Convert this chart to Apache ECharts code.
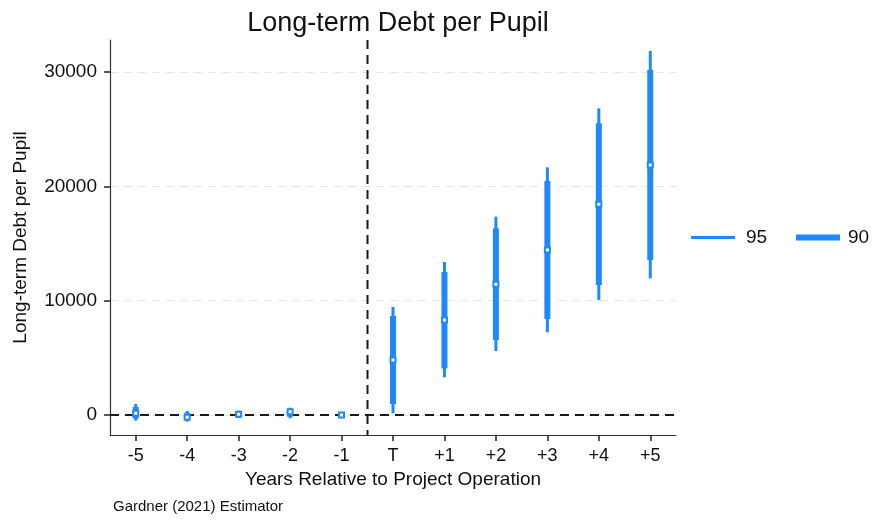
<!DOCTYPE html>
<html>
<head>
<meta charset="utf-8">
<title>Long-term Debt per Pupil</title>
<script src="https://cdn.jsdelivr.net/npm/echarts@6/dist/echarts.min.js"></script>
<style>
  html, body { margin: 0; padding: 0; background: #ffffff; }
  #chart { width: 875px; height: 521px; }
</style>
</head>
<body>
<div id="chart"></div>
<script>
// Event-study estimates: years relative to project operation
const categories = ['-5', '-4', '-3', '-2', '-1', 'T', '+1', '+2', '+3', '+4', '+5'];
const estimates = [150, -200, 60, 290, 0, 4810, 8310, 11430, 14430, 18430, 21870];
const lo95 = [-500, -580, -260, -290, 0, 150, 3300, 5600, 7230, 10060, 11950];
const hi95 = [960, 350, 380, 640, 0, 9450, 13380, 17350, 21660, 26820, 31840];
const lo90 = [-300, -450, -150, -150, 0, 960, 4080, 6560, 8400, 11370, 13560];
const hi90 = [700, 200, 280, 500, 0, 8660, 12510, 16330, 20470, 25510, 30170];
const yTicks = [0, 10000, 20000, 30000];
// operation starts between the last pre-period year and T
const boundary = [['-1', 'T']];

const BLUE = '#1e88ff';
const FONT = "'Liberation Sans', Arial, sans-serif";
const DASH = { stroke: '#1a1a1a', lineWidth: 2, lineDash: [9, 6] };

// vertical interval bar of the given pixel width
function intervalBar(width) {
  return function (params, api) {
    const top = api.coord([api.value(0), api.value(2)]);
    const bottom = api.coord([api.value(0), api.value(1)]);
    return {
      type: 'rect',
      shape: { x: top[0] - width / 2, y: top[1], width: width, height: bottom[1] - top[1] },
      style: { fill: BLUE }
    };
  };
}

// dashed vertical line midway between two categories, spanning the plot height
function boundaryLine(params, api) {
  const a = api.coord([api.value(0), 0]);
  const b = api.coord([api.value(1), 0]);
  const x = Math.round((a[0] + b[0]) / 2) + 0.5;
  const cs = params.coordSys;
  return {
    type: 'line',
    shape: { x1: x, y1: cs.y, x2: x, y2: cs.y + cs.height },
    style: DASH
  };
}

const ci95 = categories.map((c, i) => [i, lo95[i], hi95[i]]);
const ci90 = categories.map((c, i) => [i, lo90[i], hi90[i]]);
const points = categories.map((c, i) => [i, estimates[i]]);
const boundaryData = boundary.map(([from, to]) => [categories.indexOf(from), categories.indexOf(to)]);

const chart = echarts.init(document.getElementById('chart'), null, { renderer: 'canvas' });

chart.setOption({
  animation: false,
  backgroundColor: '#ffffff',
  textStyle: { fontFamily: FONT },
  title: {
    text: 'Long-term Debt per Pupil',
    left: 393,
    textAlign: 'center',
    top: 5,
    textStyle: { fontFamily: FONT, fontSize: 27, fontWeight: 'normal', color: '#111' }
  },
  legend: [
    {
      data: ['95'],
      left: 686,
      top: 223,
      icon: 'rect',
      itemWidth: 44,
      itemHeight: 3,
      textStyle: { fontFamily: FONT, fontSize: 19, color: '#111', padding: [0, 0, 0, 6] }
    },
    {
      data: ['90'],
      left: 791,
      top: 223,
      icon: 'rect',
      itemWidth: 44,
      itemHeight: 6,
      textStyle: { fontFamily: FONT, fontSize: 19, color: '#111', padding: [0, 0, 0, 3] }
    }
  ],
  graphic: [
    {
      type: 'text',
      left: 113,
      top: 499,
      style: { text: 'Gardner (2021) Estimator', fontFamily: FONT, fontSize: 15, fill: '#111' }
    }
  ],
  grid: { left: 110, right: 199, top: 40, bottom: 86 },
  xAxis: {
    type: 'category',
    data: categories,
    boundaryGap: true,
    name: 'Years Relative to Project Operation',
    nameLocation: 'middle',
    nameGap: 35,
    nameTextStyle: { fontFamily: FONT, fontSize: 19, color: '#111' },
    axisLine: { show: true, onZero: false, lineStyle: { color: '#333', width: 1.2 } },
    axisTick: { show: true, alignWithLabel: true, length: 6, lineStyle: { color: '#222', width: 1.5 } },
    axisLabel: { margin: 12, fontFamily: FONT, fontSize: 18, color: '#111' },
    splitLine: { show: false }
  },
  yAxis: {
    type: 'value',
    min: -1750,
    max: 32800,
    name: 'Long-term Debt per Pupil',
    nameLocation: 'middle',
    nameGap: 80,
    nameTextStyle: { fontFamily: FONT, fontSize: 19, color: '#111' },
    axisLine: { show: true, onZero: false, lineStyle: { color: '#333', width: 1.2 } },
    axisTick: { show: true, length: 6, customValues: yTicks, lineStyle: { color: '#222', width: 1.5 } },
    axisLabel: {
      margin: 13,
      customValues: yTicks,
      formatter: (v) => String(v),
      fontFamily: FONT,
      fontSize: 19,
      color: '#111'
    },
    splitLine: { show: true, lineStyle: { color: '#e6e6e6', width: 1.2, type: [8, 6] } }
  },
  series: [
    {
      name: 'boundary',
      type: 'custom',
      renderItem: boundaryLine,
      encode: { x: [0, 1] },
      data: boundaryData,
      silent: true,
      z: 2
    },
    {
      name: '95',
      type: 'custom',
      renderItem: intervalBar(3),
      encode: { x: 0, y: [1, 2] },
      data: ci95,
      itemStyle: { color: BLUE },
      z: 3
    },
    {
      name: '90',
      type: 'custom',
      renderItem: intervalBar(6),
      encode: { x: 0, y: [1, 2] },
      data: ci90,
      itemStyle: { color: BLUE },
      z: 4
    },
    {
      name: 'estimate',
      type: 'scatter',
      data: points,
      symbol: 'rect',
      symbolSize: 5,
      itemStyle: { color: '#ffffff', borderColor: BLUE, borderWidth: 2, opacity: 1 },
      z: 5,
      markLine: {
        silent: true,
        symbol: 'none',
        label: { show: false },
        lineStyle: { color: '#1a1a1a', width: 2, type: [9, 6] },
        data: [{ yAxis: 0 }],
        z: 2
      }
    }
  ]
});
</script>
</body>
</html>
